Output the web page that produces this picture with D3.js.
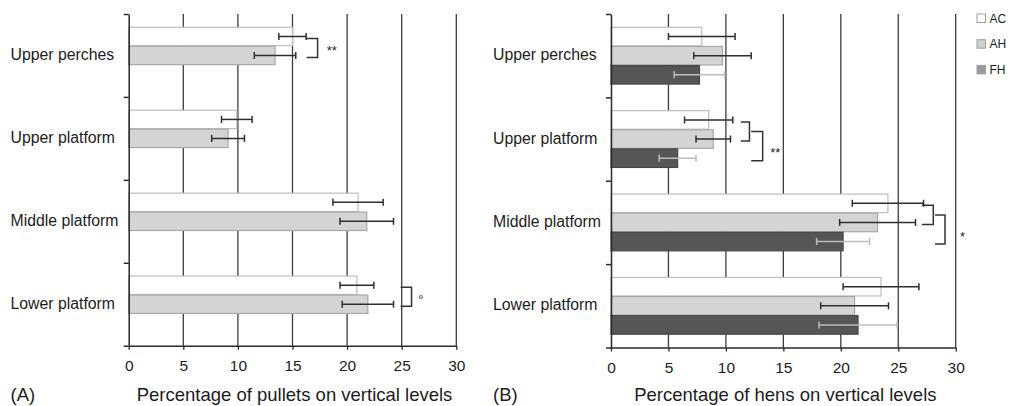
<!DOCTYPE html>
<html>
<head>
<meta charset="utf-8">
<script src="https://cdn.jsdelivr.net/npm/d3@7"></script>
<style>
  body { margin: 0; background: #fff; }
  svg { display: block; }
  text { font-family: "Liberation Sans", Arial, Helvetica, sans-serif; fill: #1c1c1c; }
</style>
</head>
<body>
<svg id="chart" width="1009" height="406"></svg>
<script>
// Vertical levels of the aviary and the housing groups
const categories = ["Upper perches", "Upper platform", "Middle platform", "Lower platform"];
const seriesNames = ["AC", "AH", "FH"];
const xTicks = [0, 5, 10, 15, 20, 25, 30];

// (A) pullets: mean percentage on each level, with error half-widths
const pulletAC = [15.0, 9.9, 21.0, 20.9];
const pulletACErr = [1.25, 1.4, 2.3, 1.55];
const pulletAH = [13.4, 9.1, 21.8, 21.9];
const pulletAHErr = [1.9, 1.5, 2.45, 2.35];

// (B) hens
const henAC = [7.9, 8.5, 24.1, 23.5];
const henACErr = [2.9, 2.1, 3.1, 3.3];
const henAH = [9.7, 8.9, 23.2, 21.2];
const henAHErr = [2.5, 1.5, 3.3, 2.95];
const henFH = [7.7, 5.8, 20.2, 21.5];
const henFHErr = [2.2, 1.6, 2.3, 3.4];

// Significance brackets: inner joins AC and AH, outer joins that pair with FH
const pulletBrackets = [
  { category: "Upper perches", inner: [16.3, 17.3], outer: null, mark: "**", markAt: 18.6 },
  { category: "Lower platform", inner: [24.9, 25.9], outer: null, mark: "\u00B0", markAt: 26.75 }
];
const henBrackets = [
  { category: "Upper platform", inner: [11.3, 12.05], outer: [12.2, 13.2], mark: "**", markAt: 14.3 },
  { category: "Middle platform", inner: [27.05, 28.05], outer: [28.2, 29.07], mark: "*", markAt: 30.6 }
];

const fills = { AC: "#ffffff", AH: "#d4d4d4", FH: "#565656" };
const strokes = { AC: "#bdbdbd", AH: "#a8a8a8", FH: "#474747" };
const errColors = { AC: "#2e2e2e", AH: "#2e2e2e", FH: "#bdbdbd" };
const legendFills = { AC: "#ffffff", AH: "#d0d0d0", FH: "#9a9a9a" };

const svg = d3.select("#chart");

function rows(values, errs, name) {
  return categories.map((c, i) => ({ category: c, series: name, value: values[i], err: errs[i] }));
}

function drawPanel(opt) {
  const g = svg.append("g");
  const x = d3.scaleLinear().domain([0, 30]).range(opt.xRange);
  const y = d3.scaleBand().domain(categories).range(opt.yRange);
  const ySub = d3.scaleBand().domain(seriesNames)
    .range([13.3, y.bandwidth() - 13.3]).paddingInner(0.03);
  const yEdge = d3.scaleLinear().domain([0, categories.length]).range(opt.yRange);
  const center = (c, s) => y(c) + ySub(s) + ySub.bandwidth() / 2;

  // vertical gridlines
  g.append("g").selectAll("line").data(xTicks.slice(1)).join("line")
    .attr("x1", d => x(d)).attr("x2", d => x(d))
    .attr("y1", opt.yRange[0]).attr("y2", opt.yRange[1])
    .attr("stroke", "#3c3c3c").attr("stroke-width", 1.3);

  // bars
  const data = opt.data.flat();
  g.append("g").selectAll("rect").data(data).join("rect")
    .attr("x", x(0))
    .attr("y", d => y(d.category) + ySub(d.series))
    .attr("width", d => x(d.value) - x(0))
    .attr("height", ySub.bandwidth())
    .attr("fill", d => fills[d.series])
    .attr("stroke", d => strokes[d.series])
    .attr("stroke-width", 1.2);

  // error bars
  const eb = g.append("g").selectAll("g").data(data).join("g")
    .attr("stroke", d => errColors[d.series]).attr("stroke-width", 1.5).attr("fill", "none");
  eb.append("line")
    .attr("x1", d => x(d.value - d.err)).attr("x2", d => x(d.value + d.err))
    .attr("y1", d => center(d.category, d.series)).attr("y2", d => center(d.category, d.series));
  eb.append("line")
    .attr("x1", d => x(d.value - d.err)).attr("x2", d => x(d.value - d.err))
    .attr("y1", d => center(d.category, d.series) - 3.5).attr("y2", d => center(d.category, d.series) + 3.5);
  eb.append("line")
    .attr("x1", d => x(d.value + d.err)).attr("x2", d => x(d.value + d.err))
    .attr("y1", d => center(d.category, d.series) - 3.5).attr("y2", d => center(d.category, d.series) + 3.5);

  // significance brackets
  const br = g.append("g").selectAll("g").data(opt.brackets).join("g");
  br.each(function (b) {
    const sel = d3.select(this);
    const top1 = center(b.category, "AC") + 2;
    const bot1 = center(b.category, "AH") + 2;
    sel.append("path")
      .attr("d", `M${x(b.inner[0])},${top1}H${x(b.inner[1])}V${bot1}H${x(b.inner[0])}`)
      .attr("fill", "none").attr("stroke", "#333").attr("stroke-width", 1.5);
    let mid = (top1 + bot1) / 2;
    if (b.outer) {
      const top2 = mid;
      const bot2 = center(b.category, "FH") + 2.5;
      sel.append("path")
        .attr("d", `M${x(b.outer[0])},${top2}H${x(b.outer[1])}V${bot2}H${x(b.outer[0])}`)
        .attr("fill", "none").attr("stroke", "#333").attr("stroke-width", 1.5);
      mid = (top2 + bot2) / 2 + 4;
    }
    sel.append("text")
      .attr("x", x(b.markAt)).attr("y", mid + 7.4)
      .attr("text-anchor", "middle").style("font-size", "13px")
      .text(b.mark);
  });

  // left axis with ticks at level boundaries
  const la = g.append("g").attr("transform", `translate(${x(0)},0)`)
    .call(d3.axisLeft(yEdge).tickValues(d3.range(categories.length + 1))
      .tickFormat("").tickSize(5).tickSizeOuter(0));
  la.select(".domain").attr("stroke", "#2a2a2a").attr("stroke-width", 1.5);
  la.selectAll(".tick line").attr("stroke", "#2a2a2a").attr("stroke-width", 1.5);

  // bottom axis
  const ba = g.append("g").attr("transform", `translate(0,${opt.yRange[1]})`)
    .call(d3.axisBottom(x).tickValues(xTicks).tickSize(4).tickSizeOuter(0).tickPadding(10));
  ba.select(".domain").attr("stroke", "#2a2a2a").attr("stroke-width", 1.5);
  ba.selectAll(".tick line").attr("stroke", "#2a2a2a").attr("stroke-width", 1.3);
  ba.selectAll(".tick text").attr("font-family", null).style("font-size", "15.5px").style("fill", "#1c1c1c");

  // category labels
  g.append("g").selectAll("text").data(categories).join("text")
    .attr("x", opt.labelX).attr("y", d => y(d) + y.bandwidth() / 2 + 4.6)
    .style("font-size", "15.8px").text(d => d);

  // axis title and panel letter
  g.append("text")
    .attr("x", (opt.xRange[0] + opt.xRange[1]) / 2 + 2).attr("y", 401)
    .attr("text-anchor", "middle").style("font-size", "18.5px").text(opt.title);
  g.append("text")
    .attr("x", opt.labelX).attr("y", 401)
    .style("font-size", "18.5px").text(opt.letter);
}

drawPanel({
  xRange: [128.7, 456.3], yRange: [14, 345.7], labelX: 10.5,
  data: [rows(pulletAC, pulletACErr, "AC"), rows(pulletAH, pulletAHErr, "AH")],
  brackets: pulletBrackets,
  title: "Percentage of pullets on vertical levels", letter: "(A)"
});

drawPanel({
  xRange: [611, 955.7], yRange: [14, 347.5], labelX: 493,
  data: [rows(henAC, henACErr, "AC"), rows(henAH, henAHErr, "AH"), rows(henFH, henFHErr, "FH")],
  brackets: henBrackets,
  title: "Percentage of hens on vertical levels", letter: "(B)"
});

// legend
const legend = svg.append("g").attr("transform", "translate(977,14)");
const li = legend.selectAll("g").data(seriesNames).join("g")
  .attr("transform", (d, i) => `translate(0,${i * 25.7})`);
li.append("rect").attr("width", 8.5).attr("height", 8.5)
  .attr("fill", d => legendFills[d]).attr("stroke", "#a0a0a0").attr("stroke-width", 1);
li.append("text").attr("x", 12.5).attr("y", 8.6)
  .style("font-size", "12px").text(d => d);
</script>
</body>
</html>
